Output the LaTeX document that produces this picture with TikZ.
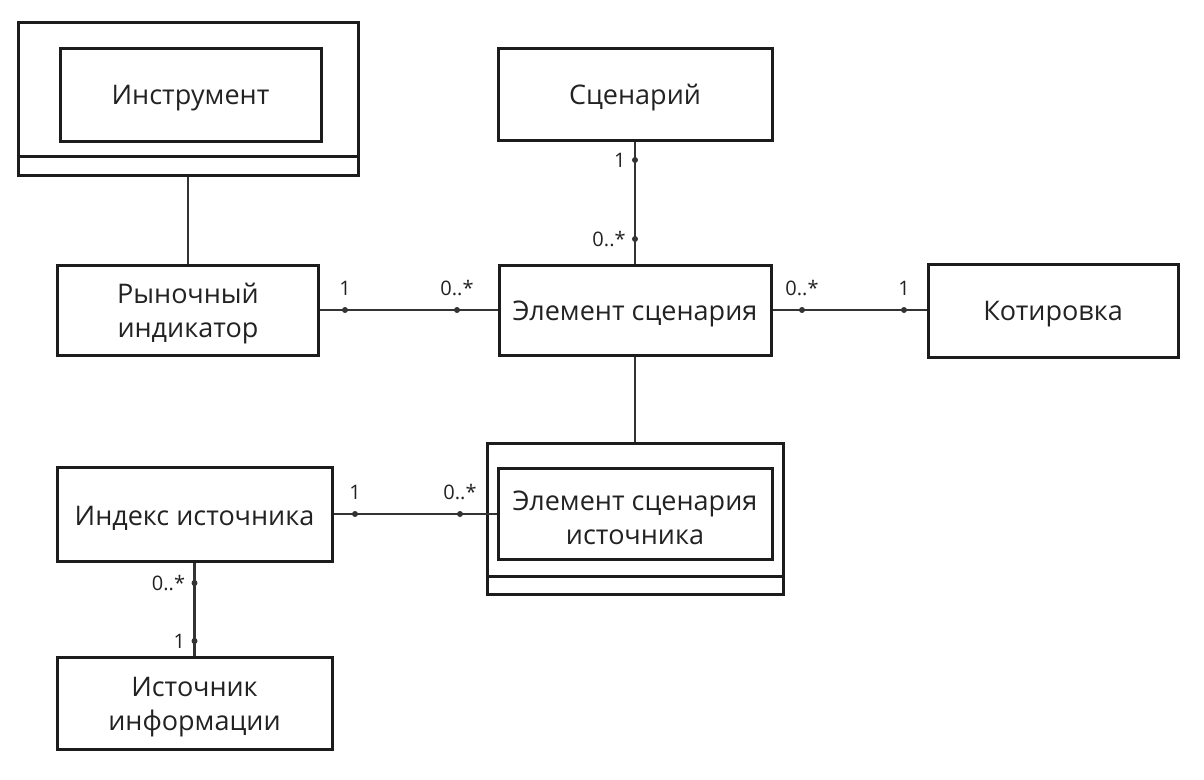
\documentclass[tikz,border=0pt]{standalone}
\usepackage{fontspec}
\setmainfont{Open Sans}
\definecolor{boxc}{HTML}{1C1C1C}
\definecolor{linec}{HTML}{333333}
\definecolor{txtc}{HTML}{222222}
\tikzset{
  entity/.style={draw=boxc, line width=3pt, rectangle, inner sep=0pt},
  etext/.style={align=center, inner sep=0pt, text=txtc, font=\fontsize{27}{34}\selectfont},
  conn/.style={draw=linec, line width=2.6pt},
  mult/.style={text=txtc, font=\fontsize{20}{22}\selectfont, inner sep=1pt},
  dotm/.style={circle, fill=linec, inner sep=0pt, minimum size=6pt}
}
\begin{document}
\begin{tikzpicture}[x=1pt,y=-1pt]
\useasboundingbox (0,0) rectangle (1204,779);
% boxes
\node[entity, minimum width=340pt, minimum height=153pt] (instOuter) at (188,98.5) {};
\node[entity, minimum width=261pt, minimum height=93pt] (inst) at (190.5,94.5) {};
\draw[draw=boxc, line width=3pt] (instOuter.west |- 0,156) -- (instOuter.east |- 0,156);

\node[entity, minimum width=261pt, minimum height=90pt] (rynok) at (188,310) {};
\node[entity, minimum width=274pt, minimum height=92pt] (scen) at (635,94) {};
\node[entity, minimum width=272pt, minimum height=90pt] (elem) at (635,310) {};
\node[entity, minimum width=250pt, minimum height=93pt] (kotir) at (1053,310.5) {};

\node[entity, minimum width=296pt, minimum height=151pt] (srcOuter) at (635,518.5) {};
\node[entity, minimum width=274pt, minimum height=91pt] (srcElem) at (635,513.5) {};
\draw[draw=boxc, line width=3pt] (srcOuter.west |- 0,576) -- (srcOuter.east |- 0,576);

\node[entity, minimum width=275pt, minimum height=94pt] (index) at (194.5,514) {};
\node[entity, minimum width=275pt, minimum height=92pt] (info) at (194.5,703) {};

% texts
\node[etext] (instT) at ([yshift=-4pt]inst.center) {Инструмент};
\node[etext] (rynokT) at ([yshift=-4pt]rynok.center) {Рыночный\\индикатор};
\node[etext] (scenT) at ([yshift=-4pt]scen.center) {Сценарий};
\node[etext] (elemT) at ([yshift=-4pt]elem.center) {Элемент сценария};
\node[etext] (kotirT) at ([yshift=-4pt]kotir.center) {Котировка};
\node[etext] (srcElemT) at ([yshift=-4pt]srcElem.center) {Элемент сценария\\источника};
\node[etext] (indexT) at ([yshift=-4pt]index.center) {Индекс источника};
\node[etext] (infoT) at ([yshift=-4pt]info.center) {Источник\\информации};

% connectors
\draw[conn] (instOuter.south) -- (instOuter.south |- rynok.north);
\draw[conn] (rynok.east) -- (elem.west);
\draw[conn] (scen.south) -- (elem.north);
\draw[conn] (elem.east) -- (kotir.west |- elem.east);
\draw[conn] (elem.south) -- (srcOuter.north);
\draw[conn] (index.east) -- (srcElem.west |- index.east);
\draw[conn] (index.south) -- (info.north);

% multiplicity dots
\node[dotm] (d1) at (345,310) {};
\node[dotm] (d2) at (457,310) {};
\node[dotm] (d3) at (635,160) {};
\node[dotm] (d4) at (635,239) {};
\node[dotm] (d5) at (802,310) {};
\node[dotm] (d6) at (904,310) {};
\node[dotm] (d7) at (355,514) {};
\node[dotm] (d8) at (460,514) {};
\node[dotm] (d9) at (194.5,583) {};
\node[dotm] (d10) at (194.5,641) {};

% multiplicity labels
\node[mult, anchor=south] (m1) at ([yshift=10pt]d1.north) {1};
\node[mult, anchor=south] (m2) at ([yshift=10pt]d2.north) {0..*};
\node[mult, anchor=east] (m3) at ([xshift=-5pt]d3.west) {1};
\node[mult, anchor=east] (m4) at ([xshift=-5pt]d4.west) {0..*};
\node[mult, anchor=south] (m5) at ([yshift=10pt]d5.north) {0..*};
\node[mult, anchor=south] (m6) at ([yshift=10pt]d6.north) {1};
\node[mult, anchor=south] (m7) at ([yshift=10pt]d7.north) {1};
\node[mult, anchor=south] (m8) at ([yshift=10pt]d8.north) {0..*};
\node[mult, anchor=east] (m9) at ([xshift=-5pt]d9.west) {0..*};
\node[mult, anchor=east] (m10) at ([xshift=-5pt]d10.west) {1};
\end{tikzpicture}
\end{document}
